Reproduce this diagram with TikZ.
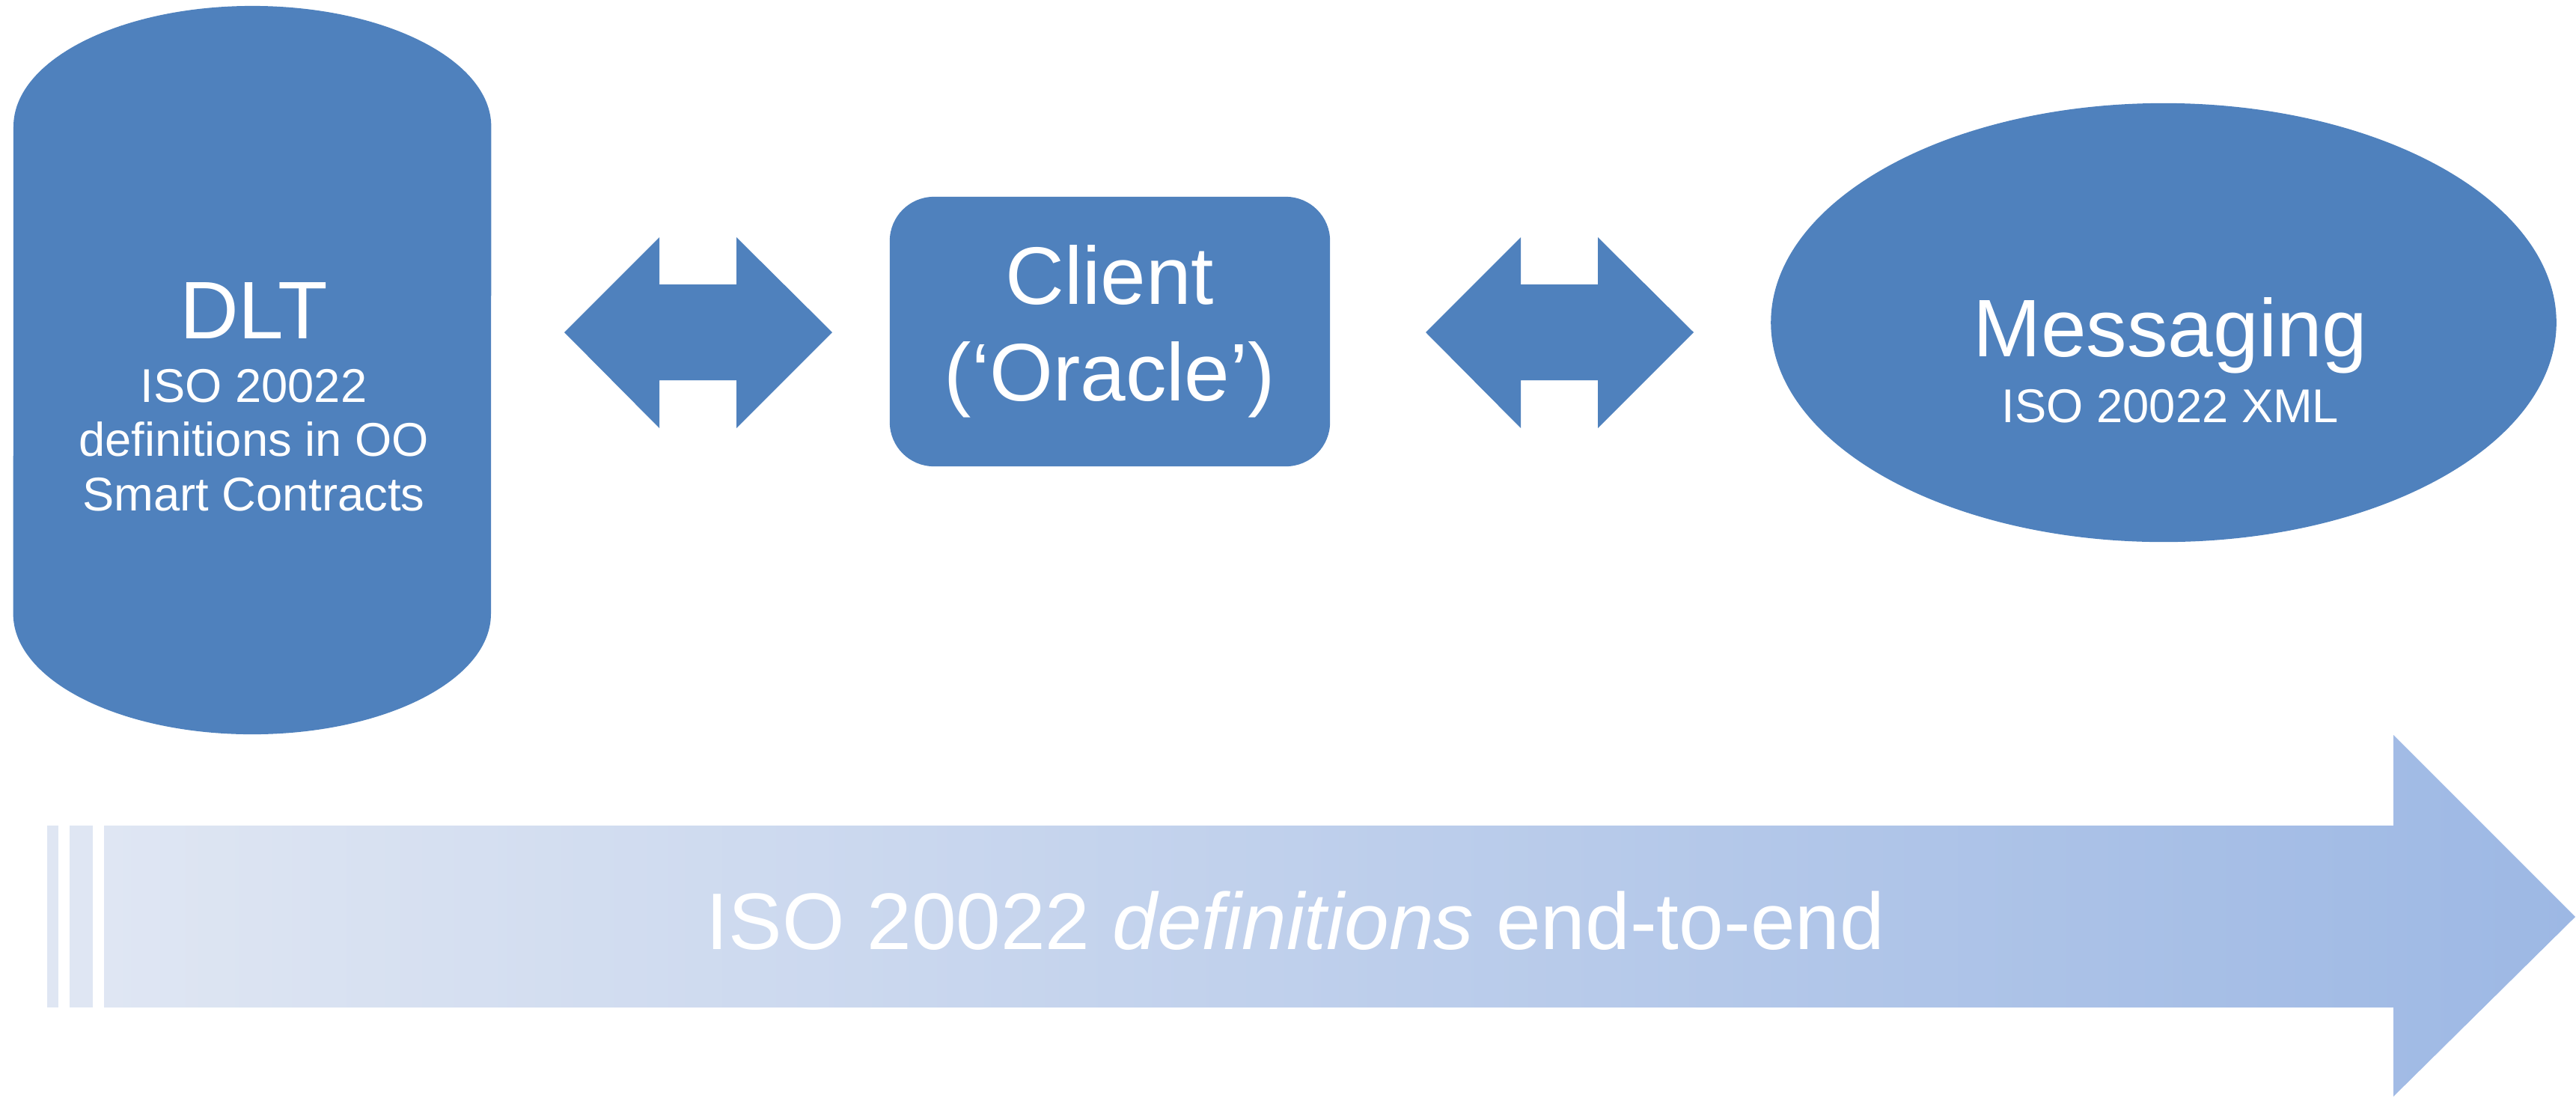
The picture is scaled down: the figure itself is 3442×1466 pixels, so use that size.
\documentclass[tikz,border=0pt]{standalone}
\usepackage{fontspec}
\setmainfont{Liberation Sans}
\usetikzlibrary{shapes.geometric}

\definecolor{boxblue}{HTML}{4F81BD}
\definecolor{barlight}{HTML}{DFE6F3}
\definecolor{bardark}{HTML}{9DB8E4}

\tikzset{
  blk/.style={fill=boxblue},
  lbl/.style={text=white, align=center, inner sep=0pt, font=\fontsize{18}{20.6}\selectfont},
  big/.style={text=white, align=center, font=\fontsize{31}{36.7}\selectfont}
}

\begin{document}
\begin{tikzpicture}[x=0.01cm,y=-0.01cm]
  \useasboundingbox (0,0) rectangle (3442,1466);

  %draw DLT cylinder
  \fill[blk] (18,169) arc[start angle=180,end angle=0,x radius=3.19cm,y radius=1.61cm]
    -- (656,820) arc[start angle=0,end angle=-180,x radius=3.19cm,y radius=1.61cm] -- cycle;
  \node[lbl, anchor=north] (dlt) at (339,377)
    {{\fontsize{31}{36.7}\selectfont DLT}\\[0.12cm] ISO 20022\\definitions in OO\\Smart Contracts};

  %draw client box
  \node[blk, big, rounded corners=0.59cm, minimum width=5.88cm, minimum height=3.6cm] (client) at (1483,443)
    {Client\\(‘Oracle’)};

  %draw messaging ellipse
  \node[blk, ellipse, minimum width=10.49cm, minimum height=5.86cm, inner sep=0pt] (msg) at (2891,431) {};
  \node[lbl, anchor=north] (msgtxt) at (2900,397)
    {{\fontsize{31}{36.7}\selectfont Messaging}\\[0.15cm] ISO 20022 XML};

  %draw double arrows
  \foreach \s in {0,1151}
    \fill[blk, shift={(\s,0)}] (754,444) -- (881,317) -- (881,380) -- (984,380) -- (984,317)
      -- (1112,444) -- (984,572) -- (984,508) -- (881,508) -- (881,572) -- cycle;

  %draw bottom arrow
  \foreach \a/\b in {63/78,93/124}
    \fill[barlight] (\a,1103) rectangle (\b,1346);
  \shade[left color=barlight, right color=bardark] (139,1103) -- (3198,1103) -- (3198,982)
    -- (3441,1225) -- (3198,1465) -- (3198,1346) -- (139,1346) -- cycle;
  \node[text=white, font=\fontsize{30.5}{36}\selectfont, anchor=base] (e2e) at (1731,1268)
    {ISO 20022 \textit{definitions} end-to-end};
\end{tikzpicture}
\end{document}
